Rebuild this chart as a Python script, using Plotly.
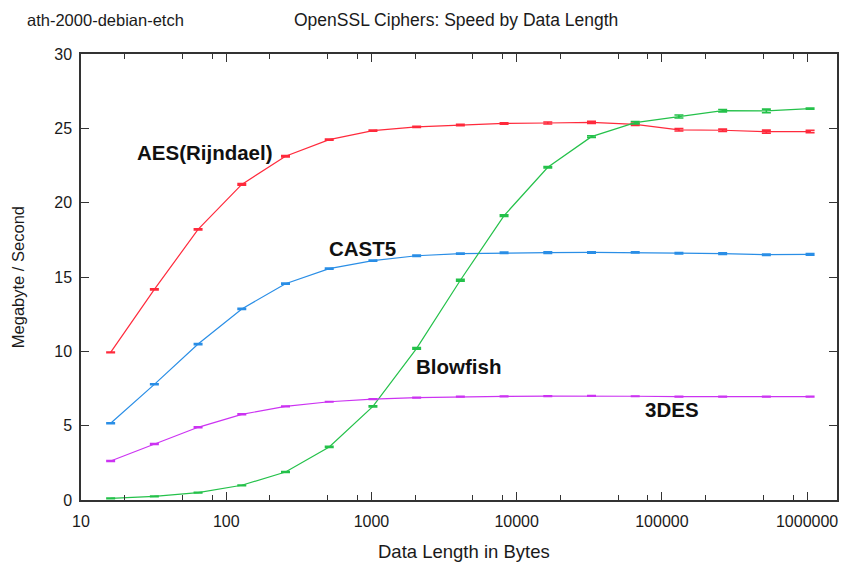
import plotly.graph_objects as go

data_length = [16, 32, 64, 128, 256, 512, 1024, 2048, 4096, 8192, 16384,
               32768, 65536, 131072, 262144, 524288, 1048576]

aes = [9.93, 14.17, 18.2, 21.23, 23.12, 24.24, 24.84, 25.1, 25.22, 25.33, 25.36,
       25.4, 25.27, 24.9, 24.87, 24.78, 24.78]
aes_err = [0.03, 0.04, 0.04, 0.05, 0.05, 0.04, 0.04, 0.04, 0.05, 0.05, 0.07,
           0.07, 0.08, 0.08, 0.08, 0.1, 0.08]

cast5 = [5.16, 7.78, 10.49, 12.85, 14.55, 15.56, 16.1, 16.43, 16.57, 16.63, 16.64,
         16.65, 16.65, 16.6, 16.57, 16.5, 16.52]
cast5_err = [0.03, 0.03, 0.04, 0.04, 0.04, 0.04, 0.04, 0.04, 0.04, 0.04, 0.05,
             0.05, 0.04, 0.05, 0.05, 0.05, 0.05]

blowfish = [0.11, 0.25, 0.5, 0.99, 1.88, 3.57, 6.3, 10.2, 14.78, 19.13, 22.38,
            24.44, 25.38, 25.8, 26.19, 26.17, 26.33]
blowfish_err = [0.02, 0.02, 0.02, 0.02, 0.03, 0.04, 0.04, 0.05, 0.06, 0.05, 0.05,
                0.06, 0.08, 0.1, 0.08, 0.12, 0.04]

des3 = [2.62, 3.77, 4.89, 5.76, 6.3, 6.61, 6.79, 6.88, 6.95, 6.97, 6.99,
        7.0, 6.98, 6.96, 6.95, 6.95, 6.95]
des3_err = [0.03, 0.03, 0.03, 0.03, 0.02, 0.02, 0.02, 0.02, 0.02, 0.02, 0.02,
            0.02, 0.02, 0.02, 0.02, 0.02, 0.02]

x_tick_vals = [10, 100, 1000, 10000, 100000, 1000000]
x_tick_text = ["10", "100", "1000", "10000", "100000", "1000000"]
x_minor_vals = [m * 10 ** e for e in range(1, 7) for m in (2, 5, 8)]
y_tick_vals = [0, 5, 10, 15, 20, 25, 30]

series = [
    ("AES(Rijndael)", aes, aes_err, "#ff2a3c"),
    ("CAST5", cast5, cast5_err, "#2a8ee6"),
    ("Blowfish", blowfish, blowfish_err, "#24c14a"),
    ("3DES", des3, des3_err, "#cc33f2"),
]

FONT = "Liberation Sans, Arial, Helvetica, sans-serif"

fig = go.Figure()
for name, ys, err, col in series:
    fig.add_trace(go.Scatter(
        x=data_length, y=ys, mode="lines", name=name,
        line=dict(color=col, width=1.2),
        error_y=dict(type="data", array=err, visible=True, color=col,
                     thickness=1.6, width=4.5),
        showlegend=False,
    ))

axis_common = dict(
    showline=True, linecolor="#333333", linewidth=1.5, mirror="ticks",
    ticks="inside", ticklen=8, tickwidth=1.2, tickcolor="#333333",
    showgrid=False, zeroline=False,
    tickfont=dict(family=FONT, size=16, color="#1a1a1a"),
)

fig.update_xaxes(
    type="log", range=[1, 6.206],
    tickmode="array", tickvals=x_tick_vals, ticktext=x_tick_text,
    minor=dict(tickmode="array", tickvals=x_minor_vals, ticks="inside",
               ticklen=5, tickwidth=1.2, tickcolor="#333333", showgrid=False),
    ticklabelstandoff=6,
    **axis_common,
)
fig.update_yaxes(
    range=[0, 30], tickmode="array", tickvals=y_tick_vals,
    ticklabelstandoff=4,
    **axis_common,
)

ann = []
label_pos = [
    ("AES(Rijndael)", 0.1636, 0.780),
    ("CAST5", 0.3727, 0.565),
    ("Blowfish", 0.4987, 0.3004),
    ("3DES", 0.7819, 0.2018),
]
for txt, px, py in label_pos:
    ann.append(dict(text="<b>" + txt + "</b>", x=px, y=py, xref="paper", yref="paper",
                    showarrow=False, xanchor="center", yanchor="middle",
                    font=dict(family=FONT, size=20.5, color="#111111")))

ann.append(dict(text="ath-2000-debian-etch", x=-0.0739, y=1.0762, xref="paper",
                yref="paper", showarrow=False, xanchor="left", yanchor="middle",
                font=dict(family=FONT, size=16.5, color="#1a1a1a")))
ann.append(dict(text="OpenSSL Ciphers: Speed by Data Length", x=0.4966, y=1.0762,
                xref="paper", yref="paper", showarrow=False, xanchor="center",
                yanchor="middle", font=dict(family=FONT, size=17.5, color="#1a1a1a")))
ann.append(dict(text="Data Length in Bytes", x=0.5066, y=-0.116, xref="paper",
                yref="paper", showarrow=False, xanchor="center", yanchor="middle",
                font=dict(family=FONT, size=18.5, color="#1a1a1a")))
ann.append(dict(text="Megabyte / Second", x=-0.0831, y=0.5, xref="paper",
                yref="paper", showarrow=False, xanchor="center", yanchor="middle",
                textangle=-90, font=dict(family=FONT, size=16.5, color="#1a1a1a")))

fig.update_layout(
    width=846, height=563,
    margin=dict(l=81, r=7, t=54, b=63),
    paper_bgcolor="white", plot_bgcolor="white",
    annotations=ann,
)

fig.write_html("out.html")
